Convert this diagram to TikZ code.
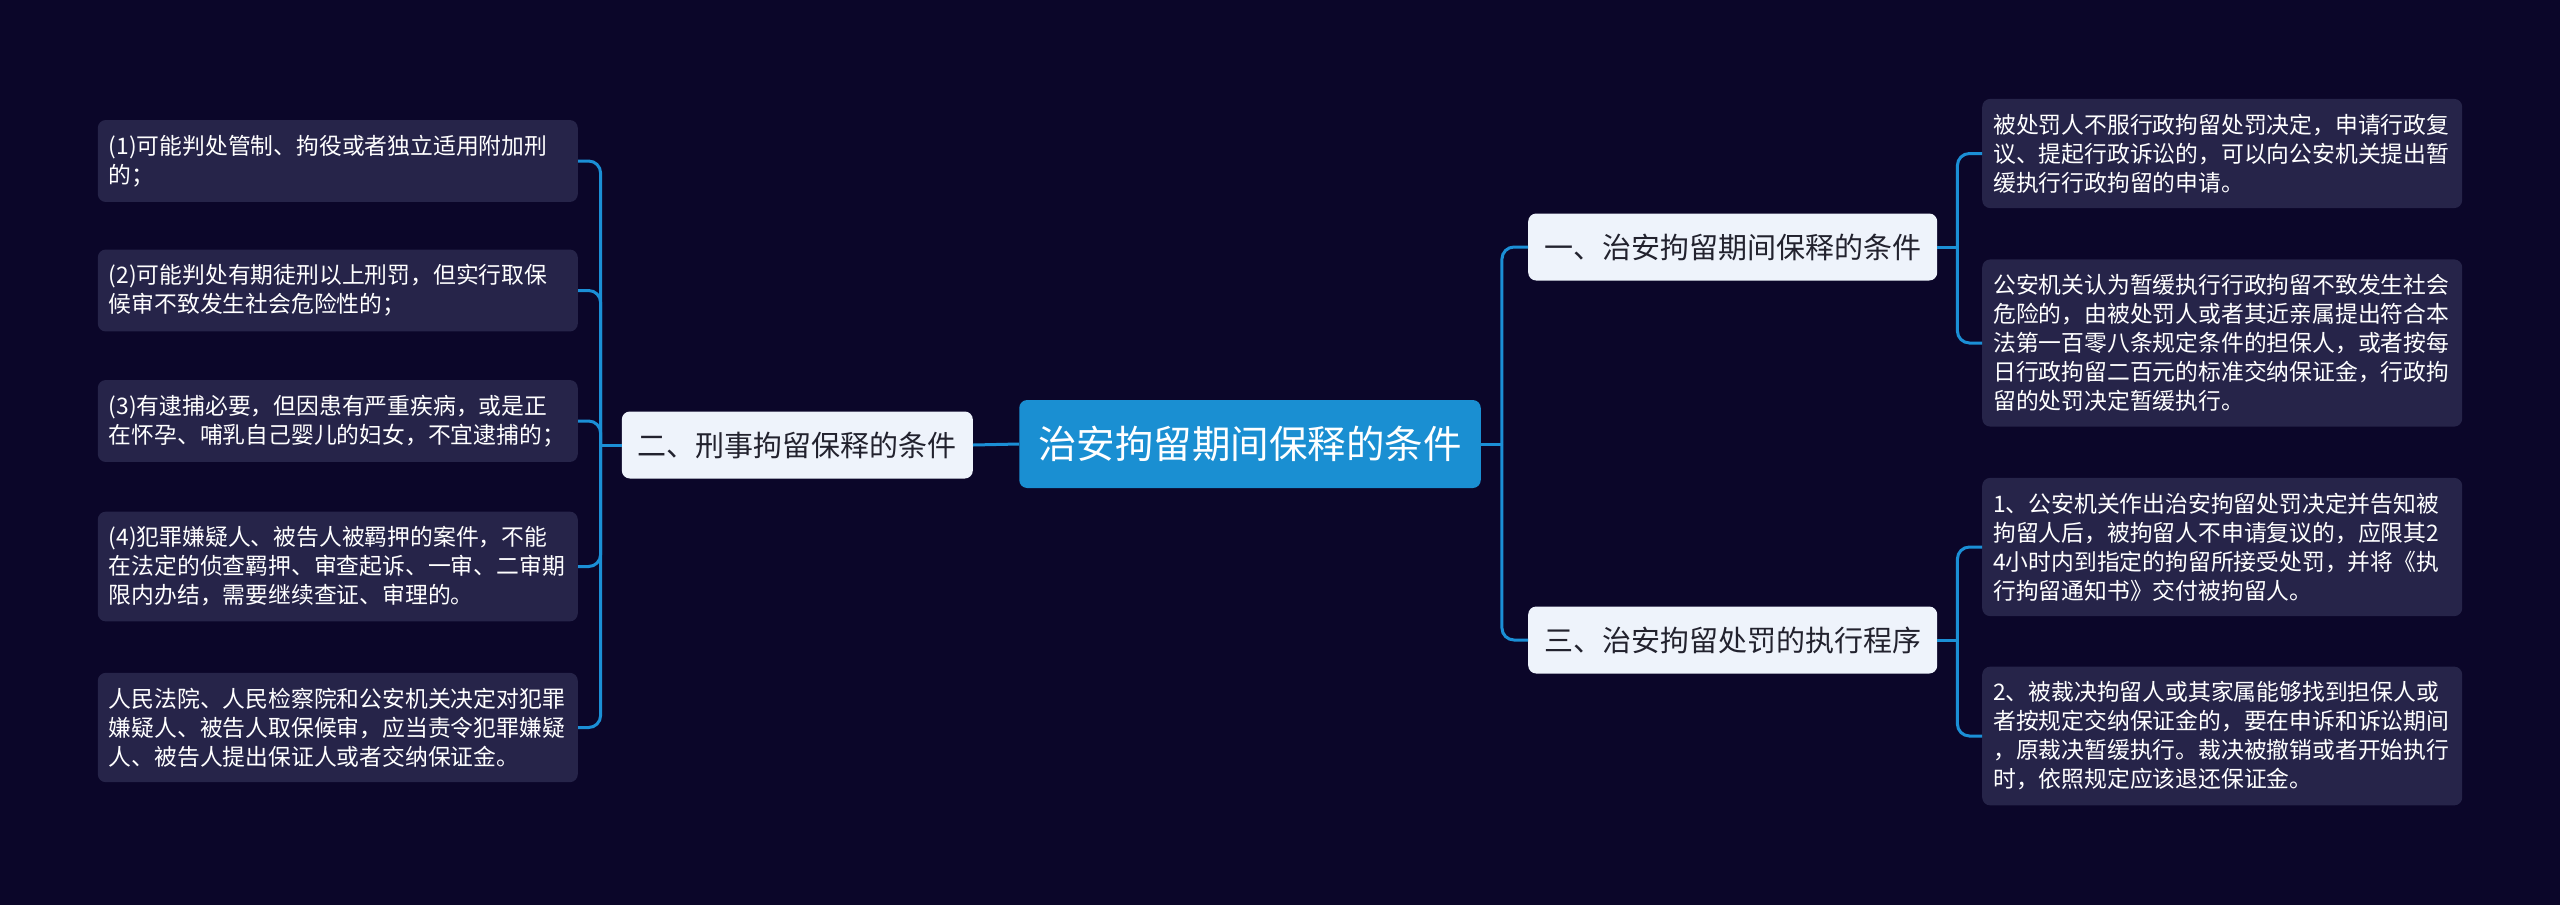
\documentclass[tikz,border=0pt]{standalone}
\usepackage{fontspec}
\setmainfont{Noto Sans CJK SC}
\definecolor{bgnavy}{HTML}{0B0629}
\definecolor{leaffill}{HTML}{262449}
\definecolor{branchfill}{HTML}{EEF3FB}
\definecolor{branchtext}{HTML}{22222E}
\definecolor{rootblue}{HTML}{1A8FD2}
\definecolor{linkblue}{HTML}{1B8FD6}
\tikzset{
  leafbox/.style={fill=leaffill, rounded corners=8pt, text=white, text width=458pt,
    inner xsep=11pt, inner ysep=15pt, align=left, font=\fontsize{22.8}{29}\selectfont},
  branchbox/.style={fill=branchfill, rounded corners=8pt, text=branchtext,
    inner xsep=16pt, minimum height=67pt, font=\fontsize{29}{34}\selectfont},
  rootbox/.style={fill=rootblue, rounded corners=8pt, text=white,
    inner xsep=19pt, minimum height=88pt, font=\fontsize{38.5}{44}\selectfont},
  link/.style={draw=linkblue, line width=3pt, rounded corners=12pt}
}
\begin{document}
\begin{tikzpicture}[x=1pt, y=-1pt]
  % Background and page size
  \useasboundingbox (0,0) rectangle (2560,905);
  \fill[bgnavy] (0,0) rectangle (2560,905);

  % Centre and main branches
  \node[rootbox] (root) at (1250,444) {治安拘留期间保释的条件};
  \node[branchbox, anchor=east] (crim) at (973,445) {二、刑事拘留保释的条件};
  \node[branchbox, anchor=west] (pub1) at (1528,247) {一、治安拘留期间保释的条件};
  \node[branchbox, anchor=west] (pub3) at (1528,640) {三、治安拘留处罚的执行程序};

  % Left leaves
  \node[leafbox, anchor=east] (crim1) at (578,161) {(1)可能判处管制、拘役或者独立适用附加刑\\的；};
  \node[leafbox, anchor=east] (crim2) at (578,290.5) {(2)可能判处有期徒刑以上刑罚，但实行取保\\候审不致发生社会危险性的；};
  \node[leafbox, anchor=east] (crim3) at (578,421) {(3)有逮捕必要，但因患有严重疾病，或是正\\在怀孕、哺乳自己婴儿的妇女，不宜逮捕的；};
  \node[leafbox, anchor=east] (crim4) at (578,566.5) {(4)犯罪嫌疑人、被告人被羁押的案件，不能\\在法定的侦查羁押、审查起诉、一审、二审期\\限内办结，需要继续查证、审理的。};
  \node[leafbox, anchor=east] (crim5) at (578,727.5) {人民法院、人民检察院和公安机关决定对犯罪\\嫌疑人、被告人取保候审，应当责令犯罪嫌疑\\人、被告人提出保证人或者交纳保证金。};

  % Right leaves
  \node[leafbox, anchor=west] (pub11) at (1982,153.5) {被处罚人不服行政拘留处罚决定，申请行政复\\议、提起行政诉讼的，可以向公安机关提出暂\\缓执行行政拘留的申请。};
  \node[leafbox, anchor=west] (pub12) at (1982,343) {公安机关认为暂缓执行行政拘留不致发生社会\\危险的，由被处罚人或者其近亲属提出符合本\\法第一百零八条规定条件的担保人，或者按每\\日行政拘留二百元的标准交纳保证金，行政拘\\留的处罚决定暂缓执行。};
  \node[leafbox, anchor=west] (pub31) at (1982,547) {1、公安机关作出治安拘留处罚决定并告知被\\拘留人后，被拘留人不申请复议的，应限其2\\4小时内到指定的拘留所接受处罚，并将《执\\行拘留通知书》交付被拘留人。};
  \node[leafbox, anchor=west] (pub32) at (1982,736) {2、被裁决拘留人或其家属能够找到担保人或\\者按规定交纳保证金的，要在申诉和诉讼期间\\，原裁决暂缓执行。裁决被撤销或者开始执行\\时，依照规定应该退还保证金。};

  % Connectors
  \draw[link] (root.west) -- (crim.east);
  \draw[link] (root.east) -- ++(21,0) coordinate (rj);
  \draw[link] (rj) |- (pub1.west);
  \draw[link] (rj) |- (pub3.west);

  \draw[link] (crim.west) -- ++(-21,0) coordinate (lj);
  \foreach \n in {1,...,5} {
    \draw[link] (lj) |- (crim\n.east);
  }

  \draw[link] (pub1.east) -- ++(20,0) coordinate (p1j);
  \draw[link] (pub3.east) -- ++(20,0) coordinate (p3j);
  \foreach \n in {1,2} {
    \draw[link] (p1j) |- (pub1\n.west);
    \draw[link] (p3j) |- (pub3\n.west);
  }
\end{tikzpicture}
\end{document}
